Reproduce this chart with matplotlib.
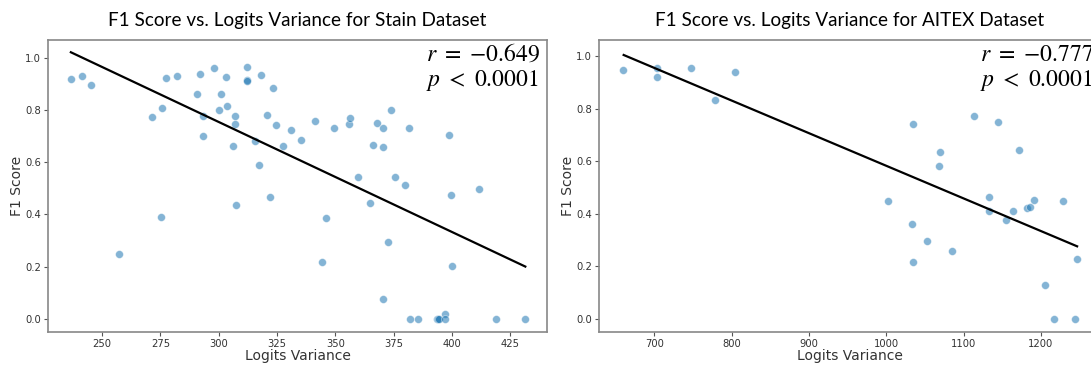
import numpy as np
import matplotlib
matplotlib.use("Agg")
import matplotlib.pyplot as plt

# Stain dataset (left panel)
stain_var = [236.6, 241.4, 245.4, 257.2, 271.5, 275.2, 275.8, 277.3, 282.2, 290.8,
             291.9, 293.4, 293.2, 297.8, 299.9, 300.8, 302.9, 303.5, 305.9, 307.1,
             307.1, 307.4, 312.2, 312.2, 312.3, 315.7, 317.2, 318.0, 320.5, 322.0,
             323.4, 324.4, 327.6, 331.0, 335.3, 341.4, 344.4, 346.0, 349.3, 356.0,
             356.2, 359.6, 364.9, 365.9, 368.0, 370.4, 370.4, 370.6, 372.7, 373.8,
             375.7, 379.7, 381.5, 381.8, 385.5, 393.7, 393.9, 394.4, 397.1, 397.0,
             398.9, 399.7, 400.0, 411.7, 418.9, 431.4]
stain_f1 = [0.918, 0.930, 0.895, 0.248, 0.775, 0.390, 0.808, 0.923, 0.931, 0.863,
            0.937, 0.779, 0.699, 0.963, 0.800, 0.861, 0.928, 0.817, 0.664, 0.778,
            0.746, 0.437, 0.966, 0.916, 0.912, 0.682, 0.590, 0.934, 0.780, 0.466,
            0.885, 0.742, 0.662, 0.723, 0.685, 0.759, 0.217, 0.386, 0.732, 0.748,
            0.769, 0.545, 0.444, 0.668, 0.752, 0.732, 0.658, 0.075, 0.295, 0.800,
            0.544, 0.512, 0.733, 0.0, 0.0, 0.0, 0.0, 0.0, 0.019, 0.0,
            0.705, 0.475, 0.203, 0.496, 0.0, 0.0]
stain_fit_x = [236.6, 431.4]
stain_fit_y = [1.022, 0.200]
stain_stats = "$r\\ =\\ {-}0.649$\n$p\\ <\\ 0.0001$"

# AITEX dataset (right panel)
aitex_var = [659.0, 703.2, 704.1, 747.8, 778.4, 804.5, 1002.3, 1033.8, 1034.3, 1035.2,
             1053.2, 1068.1, 1069.0, 1085.6, 1113.1, 1132.5, 1132.9, 1145.1, 1154.6, 1164.5,
             1171.7, 1182.5, 1185.6, 1191.0, 1205.5, 1216.7, 1228.0, 1243.7, 1246.4]
aitex_f1 = [0.946, 0.921, 0.955, 0.956, 0.833, 0.939, 0.447, 0.361, 0.742, 0.216,
            0.295, 0.580, 0.636, 0.257, 0.773, 0.465, 0.412, 0.750, 0.375, 0.409,
            0.641, 0.420, 0.425, 0.454, 0.130, 0.0, 0.449, 0.0, 0.226]
aitex_fit_x = [660.4, 1246.9]
aitex_fit_y = [1.004, 0.276]
aitex_stats = "$r\\ =\\ {-}0.777$\n$p\\ <\\ 0.0001$"

W, H = 1091, 365
plt.rcParams['mathtext.fontset'] = 'stix'
fig = plt.figure(figsize=(W / 100, H / 100), dpi=100)

def px_axes(left, right, top, bottom):
    return fig.add_axes([left / W, (H - bottom) / H, (right - left) / W, (bottom - top) / H])

ax1 = px_axes(48, 547, 40, 332)
ax2 = px_axes(599, 1100, 40, 332)

panels = [
    (ax1, stain_var, stain_f1, stain_fit_x, stain_fit_y, stain_stats,
     "F1 Score vs. Logits Variance for Stain Dataset", (226.8, 440.7), (-0.051, 1.069),
     [250, 275, 300, 325, 350, 375, 400, 425], 426),
    (ax2, aitex_var, aitex_f1, aitex_fit_x, aitex_fit_y, aitex_stats,
     "F1 Score vs. Logits Variance for AITEX Dataset", (628.5, 1276.5), (-0.050, 1.061),
     [700, 800, 900, 1000, 1100, 1200], 980),
]

for ax, xs, ys, fx, fy, stats, title, xlim, ylim, xticks, text_left in panels:
    ax.scatter(xs, ys, s=32, color='#1f77b4', alpha=0.55, edgecolor='white', linewidth=0.5, zorder=2)
    ax.plot(fx, fy, color='black', lw=1.6, zorder=3)
    ax.set_xlim(*xlim)
    ax.set_ylim(*ylim)
    ax.set_xticks(xticks)
    ax.set_yticks([0.0, 0.2, 0.4, 0.6, 0.8, 1.0])
    ax.tick_params(labelsize=7.2, colors='#555555', length=3, width=0.8, pad=2)
    for lab in ax.get_xticklabels() + ax.get_yticklabels():
        lab.set_color('#333333')
    for s in ax.spines.values():
        s.set_color('#888888')
        s.set_linewidth(1.2)
    ax.set_xlabel("Logits Variance", fontsize=10, color='#333333', labelpad=0)
    ax.set_ylabel("F1 Score", fontsize=10, color='#333333', labelpad=1)
    ax.set_title(title, fontsize=13.6, family='Lato', pad=10)
    # r / p annotation, left edge given in figure pixels
    fig.text(text_left / W, (H - 42) / H, stats, ha='left', va='top',
             fontsize=17, linespacing=1.05)

fig.savefig("out.png", dpi=100)
